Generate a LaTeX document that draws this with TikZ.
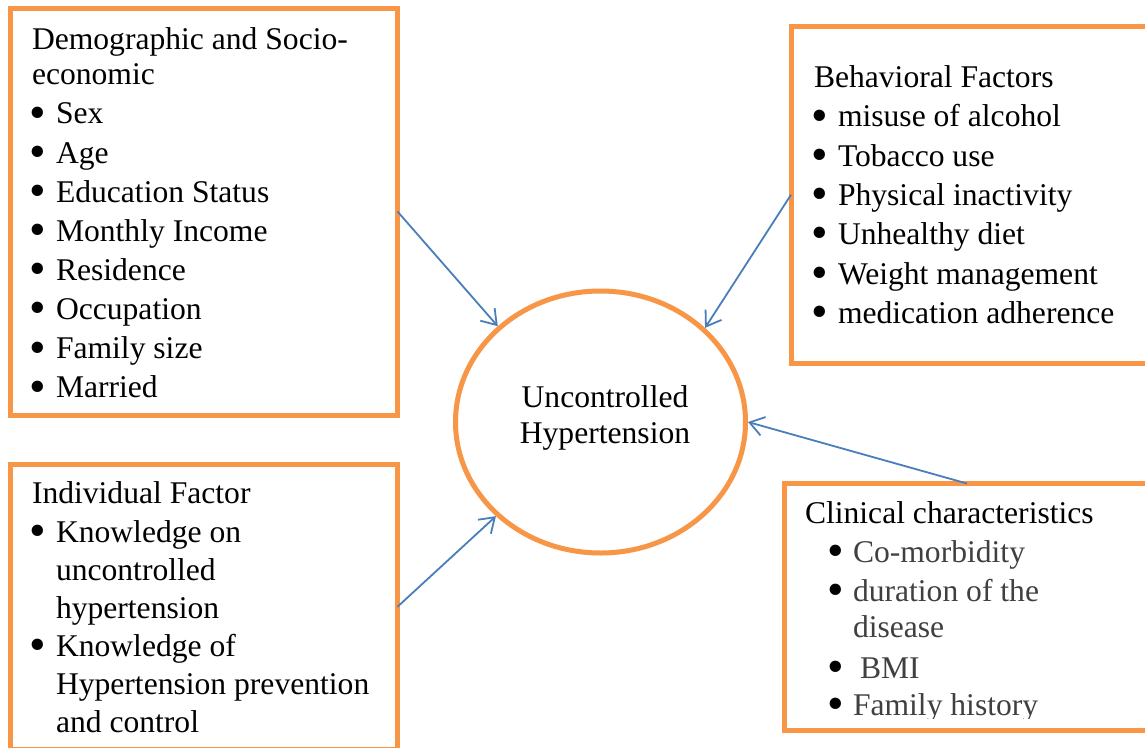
\documentclass[tikz,border=0pt]{standalone}
\usepackage{fontspec}
\setmainfont{Liberation Serif}
\usetikzlibrary{arrows.meta,shapes.geometric}
\definecolor{boxorange}{HTML}{F79646}
\definecolor{arrowblue}{HTML}{4A7EBB}
\definecolor{itemgray}{HTML}{404040}
\newcommand{\bigdot}{\hspace*{-2.5pt}\raisebox{-4.2pt}{\scalebox{1.5}{\textbullet}}}
\newcommand{\bul}{\makebox[24pt][l]{\bigdot}}
\newcommand{\cont}{\hspace*{24pt}}
\begin{document}
\begin{tikzpicture}[x=1pt,y=-1pt,
  factorbox/.style={draw=boxorange,line width=5pt,rectangle,inner sep=0pt,outer sep=0pt,anchor=north west},
  boxtext/.style={anchor=base west,inner sep=0pt,outer sep=0pt},
  conn/.style={draw=arrowblue,line width=1.8pt,-{Straight Barb[length=14pt,width=19pt,line width=1.8pt]}}
]
\useasboundingbox (0,0) rectangle (1145,747);
\clip (0,0) rectangle (1145,747);
\fill[white] (0,0) rectangle (1145,747);

% boxes
\node[factorbox,minimum width=387.5pt,minimum height=407pt] (dem) at (10,8) {};
\node[factorbox,minimum width=356pt,minimum height=337.5pt] (beh) at (791,26) {};
\node[factorbox,minimum width=387.5pt,minimum height=284.5pt] (ind) at (10,464.5) {};
\node[factorbox,minimum width=365pt,minimum height=247pt] (cli) at (784.5,483.5) {};

% central ellipse
\node[draw=boxorange,line width=5pt,ellipse,minimum width=290pt,minimum height=262pt,inner sep=0pt] (hyp) at (600.5,422) {};
\node[anchor=base,inner sep=0pt] (hyptext) at (605,407)
  {\fontsize{31.6pt}{36pt}\selectfont\begin{tabular}[t]{@{}c@{}}Uncontrolled\\Hypertension\end{tabular}};

% box texts
\node[boxtext] (demtext) at (32,49) {\fontsize{31.6pt}{39.14pt}\selectfont
\begin{minipage}[t]{370pt}\raggedright
Demographic and Socio-\\[-3.3pt]
economic\\
\bul Sex\\
\bul Age\\
\bul Education Status\\
\bul Monthly Income\\
\bul Residence\\
\bul Occupation\\
\bul Family size\\
\bul Married
\end{minipage}};

\node[boxtext] (behtext) at (814,87.5) {\fontsize{31.6pt}{39.3pt}\selectfont
\begin{minipage}[t]{330pt}\raggedright
Behavioral Factors\\
\bul misuse of alcohol\\
\bul Tobacco use\\
\bul Physical inactivity\\
\bul Unhealthy diet\\
\bul Weight management\\
\bul medication adherence
\end{minipage}};

\node[boxtext] (indtext) at (32,503) {\fontsize{31.6pt}{38pt}\selectfont
\begin{minipage}[t]{370pt}\raggedright
Individual Factor\\[1pt]
\bul Knowledge on\\
\cont uncontrolled\\
\cont hypertension\\
\bul Knowledge of\\
\cont Hypertension prevention\\
\cont and control
\end{minipage}};

\begin{scope}
\clip (784.5,483.5) rectangle (1145,718);
\node[boxtext] (clitext) at (805,523) {\fontsize{31.6pt}{39pt}\selectfont
\begin{minipage}[t]{340pt}\raggedright
Clinical characteristics\\
\hspace*{25pt}\makebox[23pt][l]{\bigdot}{\color{itemgray}Co-morbidity}\\
\hspace*{25pt}\makebox[23pt][l]{\bigdot}{\color{itemgray}duration of the}\\[-3pt]
\hspace*{48pt}{\color{itemgray}disease}\\[2pt]
\hspace*{25pt}\makebox[30pt][l]{\bigdot}{\color{itemgray}BMI}\\[-2pt]
\hspace*{25pt}\makebox[23pt][l]{\bigdot}{\color{itemgray}Family history}
\end{minipage}};
\end{scope}

% connectors
\draw[conn] (dem.east) -- (hyp.137.5);
\draw[conn] (beh.west) -- (hyp.42.5);
\draw[conn] (cli.north) -- (hyp.-0.4);
\draw[conn] (ind.east) -- (hyp.222.2);
\end{tikzpicture}
\end{document}
